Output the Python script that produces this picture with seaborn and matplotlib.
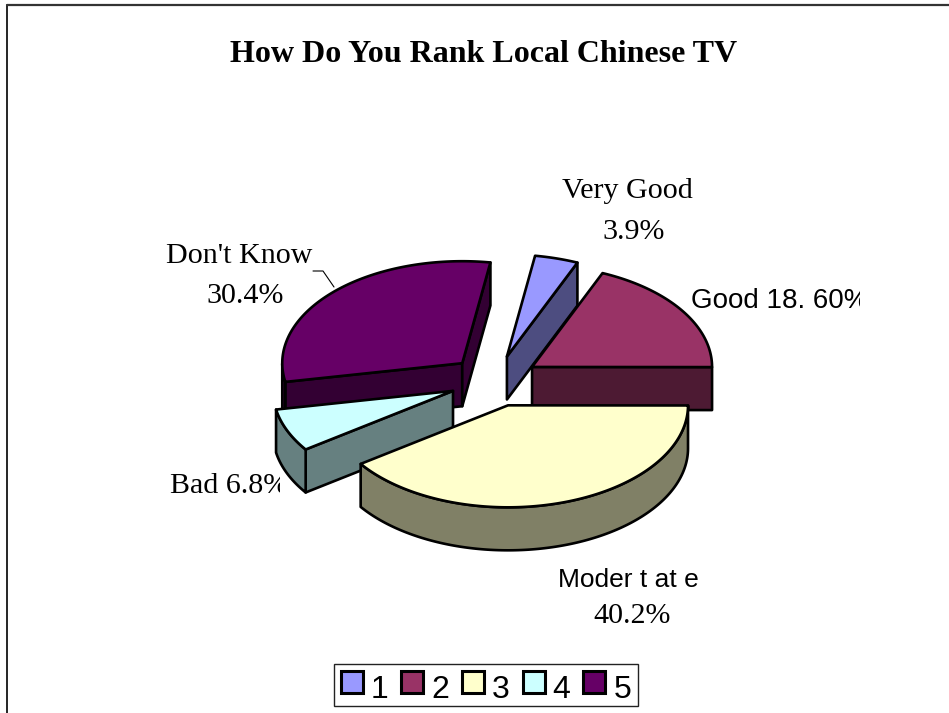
import numpy as np
import matplotlib
matplotlib.use("Agg")
import matplotlib.pyplot as plt
from matplotlib.patches import Patch, Rectangle
import seaborn as sns

# Survey shares, in chart order (clockwise from the first slice)
categories = ["Very Good", "Good", "Moderate", "Bad", "Don't Know"]
shares = [3.9, 18.6, 40.2, 6.8, 30.4]
legend_labels = ["1", "2", "3", "4", "5"]
top_colors = ["#9999FF", "#993366", "#FFFFCC", "#CCFFFF", "#660066"]
side_colors = ["#4D4D80", "#4D1A33", "#808066", "#668080", "#330033"]

sns.set_theme(style="white")
SERIF = "Liberation Serif"
SANS = "Liberation Sans"

W, H = 949, 713
fig = plt.figure(figsize=(W / 100, H / 100), dpi=100)
ax = fig.add_axes([0, 0, 1, 1])
ax.set_xlim(0, W)
ax.set_ylim(H, 0)
ax.axis("off")

# Pie geometry on the pixel-scaled axes
CX, CY = 494.5, 381
RX, RY = 180, 102
DEPTH = 43
EXPLODE = 45
FIRST_ANGLE = 81.0
EDGE = 1.9


def rim(t, ox, oy):
    r = np.radians(t)
    return ox + RX * np.cos(r), oy - RY * np.sin(r)


fractions = np.array(shares) / np.sum(shares)
ends = FIRST_ANGLE - np.cumsum(fractions) * 360
starts = np.r_[FIRST_ANGLE, ends[:-1]]

# Back slices first, so nearer ones overlap them
order = [0, 4, 1, 3, 2]
for i in order:
    a0, a1 = starts[i], ends[i]
    mid = np.radians((a0 + a1) / 2)
    ox = CX + EXPLODE * np.cos(mid)
    oy = CY - EXPLODE * np.sin(mid) * RY / RX
    ts = np.linspace(a0, a1, 160)
    xs, ys = rim(ts, ox, oy)
    kw = dict(edgecolor="black", linewidth=EDGE, joinstyle="round")

    # Radial cut faces that turn towards the viewer
    visible = []
    if np.cos(np.radians(a0)) < 0:
        visible.append(a0)
    if np.cos(np.radians(a1)) > 0:
        visible.append(a1)
    for t in visible:
        px, py = rim(t, ox, oy)
        ax.fill([ox, px, px, ox], [oy, py, py + DEPTH, oy + DEPTH],
                facecolor=side_colors[i], **kw)

    # Outer wall along the near half of the rim
    wall = ts[np.sin(np.radians(ts)) <= 0]
    if len(wall) > 1:
        wx, wy = rim(wall, ox, oy)
        ax.fill(np.r_[wx, wx[::-1]], np.r_[wy, wy[::-1] + DEPTH],
                facecolor=side_colors[i], **kw)

    # Top surface
    ax.fill(np.r_[ox, xs], np.r_[oy, ys], facecolor=top_colors[i], **kw)


def label(x, y, s, family=SERIF, size=21.6, clip_x=None, ha="center"):
    t = ax.text(x, y, s, family=family, fontsize=size, color="black",
                ha=ha, va="baseline")
    if clip_x is not None:
        t.set_clip_path(Rectangle((0, 0), clip_x, H, transform=ax.transData))
        t.set_clip_on(True)
    return t


ax.text(484, 62, "How Do You Rank Local Chinese TV", family=SERIF, fontsize=23.0,
        fontweight="bold", color="black", ha="center", va="baseline")

label(627, 198, "Very Good")
label(634, 239, "3.9%")
label(691, 308, "Good 18. 60%", family=SANS, size=20, clip_x=860, ha="left")
label(239, 263, "Don't Know")
label(245, 303, "30.4%")
label(170, 493, "Bad 6.8%", clip_x=280, ha="left")
label(628, 587, "Moder t at e", family=SANS, size=19)
label(632, 623, "40.2%")

# Leader line for the Don't Know label
ax.plot([313, 323, 334], [271, 271, 287], color="black", linewidth=0.8)

# Chart frame, open at the bottom and right
ax.plot([7, 7], [713, 5], color="black", linewidth=1.2)
ax.plot([7, 949], [5, 5], color="#333333", linewidth=1.6)

handles = [Patch(facecolor=c, edgecolor="black", linewidth=2.2) for c in top_colors]
leg = ax.legend(handles, legend_labels, ncol=5, loc="center",
                bbox_to_anchor=(486 / W, 1 - 685 / H),
                prop={"family": SANS, "size": 23},
                handlelength=0.69, handleheight=0.69, handletextpad=0.25,
                columnspacing=0.4, frameon=True, fancybox=False,
                borderpad=0.2, borderaxespad=0, labelspacing=0)
leg.get_frame().set_edgecolor("#222222")
leg.get_frame().set_linewidth(1.0)
leg.get_frame().set_alpha(1)
for txt in leg.get_texts():
    txt.set_color("black")
    txt.set_position((0, -5))

fig.savefig("out.png", dpi=100)
